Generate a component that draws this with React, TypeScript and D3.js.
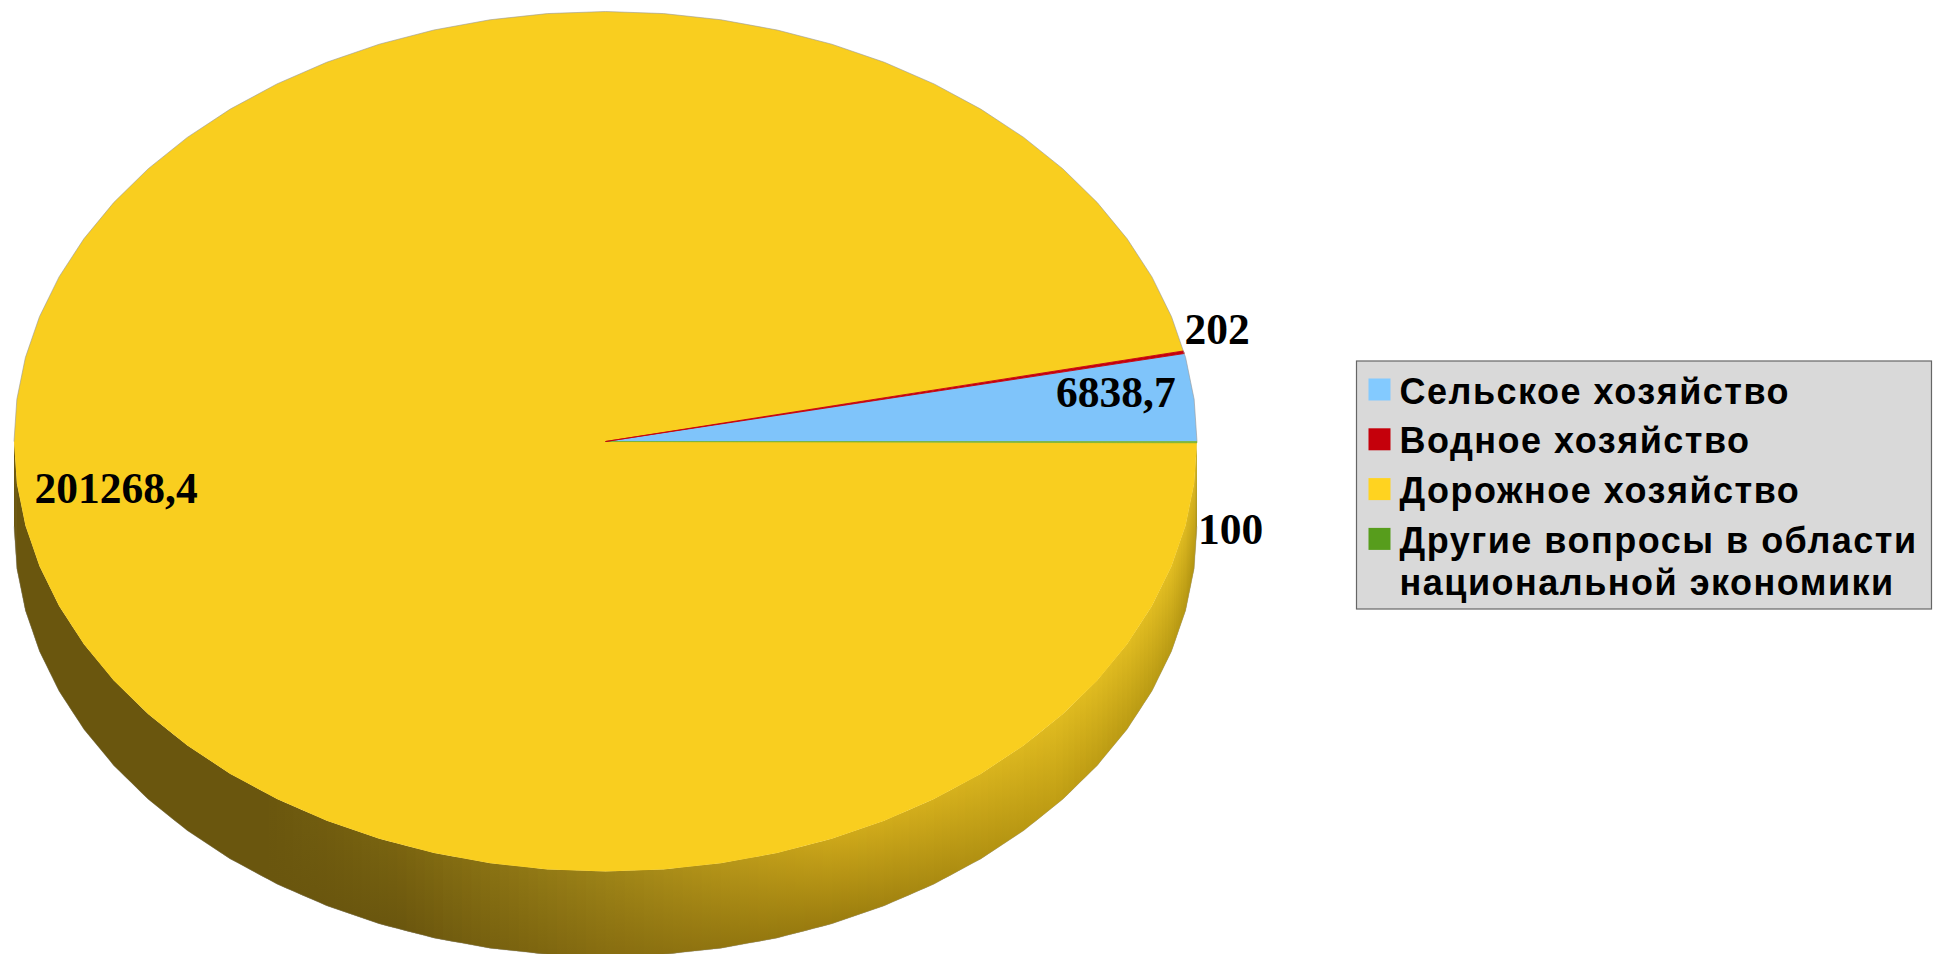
import * as d3 from 'd3';

const categories = ['Сельское хозяйство', 'Водное хозяйство', 'Дорожное хозяйство', 'Другие вопросы в области'];
const categoryExtraLine = 'национальной экономики';
const values = [6838.7, 202, 201268.4, 100];
const valueLabels = ['6838,7', '202', '201268,4', '100'];
const legendColors = ['#83caff', '#c5000b', '#ffd320', '#579d1c'];
const faceColors = ['#7fc4fa', '#c5000b', '#f9ce1f', '#6fae24'];

// shading of the side wall, by degrees clockwise from 3 o'clock
const wallAngles = [0, 16, 40, 66, 90, 110, 125, 180];
const wallTop = ['#d8b41f', '#e3be22', '#e0bb20', '#cfa91a', '#9c8217', '#7a6410', '#6a560e', '#6a560e'];
const wallBottom = ['#b0910f', '#b89a14', '#c09e14', '#9c7e0f', '#866c10', '#6a560e', '#6a560e', '#6a560e'];

const width = 1936;
const height = 954;
const cx = 605.5;
const cy = 441.5;
const rx = 591.5;
const ry = 430;
const depth = 85;
const facet = (2 * Math.PI) / 64;

// where the value labels sit: start x, baseline y
const labelPos = [
  [1056, 407],
  [1184.5, 344],
  [34.5, 503],
  [1198, 544],
];

const legend = { x: 1356.5, y: 361, w: 575, h: 248, rowGap: 49.8, swatch: 22 };

const point = (a: number, dy = 0): [number, number] => [cx + rx * Math.sin(a), cy - ry * Math.cos(a) + dy];

// vertices of the faceted rim between two angles
function rim(a0: number, a1: number, sub = 1): number[] {
  const step = facet / sub;
  const out = [a0];
  for (let i = Math.floor(a0 / step) + 1; i * step < a1 - 1e-9; i++) out.push(i * step);
  out.push(a1);
  return out;
}

// points along the polygon edge, not along the true ellipse
function rimPoint(a: number, dy = 0): [number, number] {
  const i = Math.floor(a / facet + 1e-9);
  const t = a / facet - i;
  const p0 = point(i * facet, dy);
  const p1 = point((i + 1) * facet, dy);
  return [p0[0] + (p1[0] - p0[0]) * t, p0[1] + (p1[1] - p0[1]) * t];
}

const line = d3.line();

export default function App() {
  const arcs = d3.pie<number>().sort(null).startAngle(Math.PI / 2).endAngle(Math.PI / 2 - 2 * Math.PI)(values);

  const topColor = d3.scaleLinear<string>().domain(wallAngles).range(wallTop);
  const bottomColor = d3.scaleLinear<string>().domain(wallAngles).range(wallBottom);

  // yellow slice wall in thin strips, green one as a single quad
  const visLo = Math.PI / 2;
  const visHi = (3 * Math.PI) / 2;
  const yellow = arcs[2];
  const green = arcs[3];
  const yLo = Math.max(yellow.endAngle + 2 * Math.PI, visLo);
  const yHi = Math.min(yellow.startAngle + 2 * Math.PI, visHi);
  const gLo = Math.max(green.endAngle + 2 * Math.PI, visLo);
  const gHi = Math.min(green.startAngle + 2 * Math.PI, visHi);
  const stripAngles = rim(yLo, yHi, 6);

  const wallOutline = rim(visLo, visHi);
  const silhouette: [number, number][] = wallOutline.map(a => rimPoint(a, depth));

  return (
    <svg width={width} height={height} style={{ position: 'absolute', left: 0, top: 0, display: 'block' }}>
      <defs>
        {stripAngles.slice(0, -1).map((a, i) => {
          const deg = ((a - Math.PI / 2) * 180) / Math.PI;
          const y = rimPoint(a)[1];
          return (
            <linearGradient key={i} id={`wall${i}`} gradientUnits="userSpaceOnUse" x1={0} x2={0} y1={y} y2={y + depth}>
              <stop offset="0%" stopColor={topColor(deg)} />
              <stop offset="100%" stopColor={bottomColor(deg)} />
            </linearGradient>
          );
        })}
      </defs>

      {/* side wall */}
      <g>
        {stripAngles.slice(0, -1).map((a, i) => {
          const pts = stripAngles.slice(i, i + 3);
          const d = [...pts.map(p => rimPoint(p)), ...pts.slice().reverse().map(p => rimPoint(p, depth))];
          return <path key={i} d={line(d) + 'Z'} fill={`url(#wall${i})`} />;
        })}
        <path
          d={line([rimPoint(gLo), rimPoint(gHi), rimPoint(gHi, depth), rimPoint(gLo, depth)]) + 'Z'}
          fill="#3f6f14"
        />
        <path d={line(silhouette) ?? ''} fill="none" stroke="#9a9a9a" strokeOpacity={0.35} strokeWidth={1} />
      </g>

      {/* top face */}
      <g>
        {[2, 0, 3, 1].map(i => {
          const s = arcs[i];
          const outer = rim(s.endAngle + 2 * Math.PI, s.startAngle + 2 * Math.PI).map(a => rimPoint(a));
          // the two thin slices get a stroke or they fade out towards the centre
          const sw = i === 1 ? 0.9 : i === 3 ? 0.6 : 0;
          return (
            <path
              key={i}
              d={line([[cx, cy], ...outer]) + 'Z'}
              fill={faceColors[i]}
              stroke={sw ? faceColors[i] : 'none'}
              strokeWidth={sw}
            />
          );
        })}
        <path
          d={line(rim(-Math.PI / 2 + 2 * Math.PI, Math.PI / 2 + 2 * Math.PI).map(a => rimPoint(a))) ?? ''}
          fill="none"
          stroke="#9a9a9a"
          strokeOpacity={0.6}
          strokeWidth={1}
        />
      </g>

      {/* value labels */}
      <g fontFamily="'Liberation Serif', serif" fontWeight="bold" fontSize={43.5} fill="#000">
        {valueLabels.map((t, i) => (
          <text key={t} x={labelPos[i][0]} y={labelPos[i][1]}>
            {t}
          </text>
        ))}
      </g>

      {/* legend */}
      <g>
        <rect x={legend.x} y={legend.y} width={legend.w} height={legend.h} fill="#d9d9d9" stroke="#666" strokeWidth={1.2} />
        {categories.map((c, i) => (
          <g key={c}>
            <rect
              x={legend.x + 12}
              y={legend.y + 17.5 + i * legend.rowGap}
              width={legend.swatch}
              height={legend.swatch}
              fill={legendColors[i]}
            />
            <text
              x={legend.x + 43}
              y={legend.y + 42.5 + i * legend.rowGap}
              fontFamily="'Liberation Sans', sans-serif"
              fontWeight="bold"
              fontSize={36}
              letterSpacing={1.5}
              fill="#000"
            >
              {c}
            </text>
          </g>
        ))}
        <text
          x={legend.x + 43}
          y={legend.y + 234}
          fontFamily="'Liberation Sans', sans-serif"
          fontWeight="bold"
          fontSize={36}
          letterSpacing={1.5}
          fill="#000"
        >
          {categoryExtraLine}
        </text>
      </g>
    </svg>
  );
}
